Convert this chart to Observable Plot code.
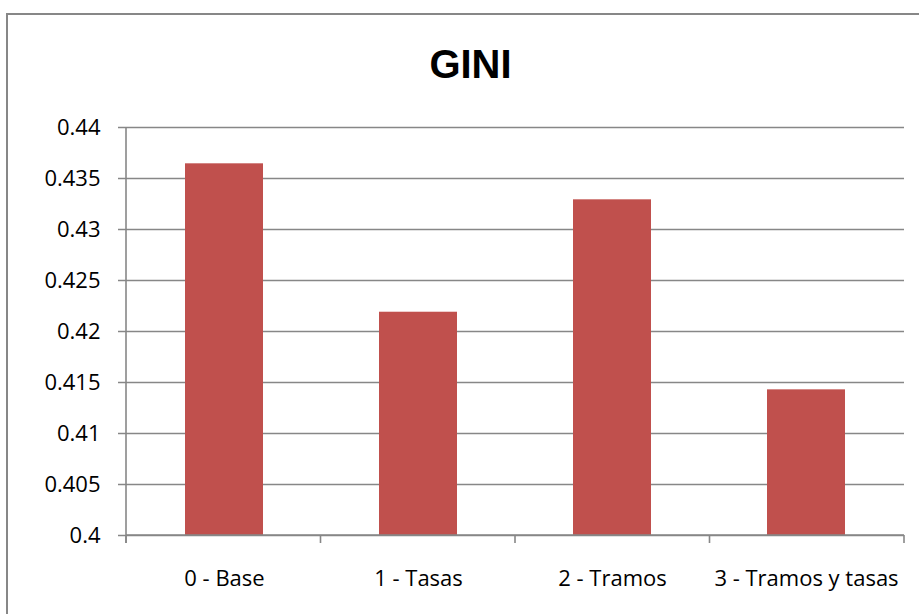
<!DOCTYPE html>
<html>
<head>
<meta charset="utf-8">
<script src="https://cdn.jsdelivr.net/npm/d3@7"></script>
<script src="https://cdn.jsdelivr.net/npm/@observablehq/plot@0.6"></script>
<style>
  html, body { margin: 0; padding: 0; background: #fff; overflow: hidden; width: 919px; height: 614px; }
  #box { position: absolute; left: 6px; top: 13px; width: 1000px; height: 700px;
         border: 2px solid #878787; box-sizing: border-box; }
  #title { position: absolute; left: 0; top: 44px; width: 941px; text-align: center;
           font: bold 40px "Liberation Sans", Arial, sans-serif; line-height: 40px; color: #000; z-index: 2; }
  #chart { position: absolute; left: 0; top: 0; }
</style>
</head>
<body>
<div id="box"></div>
<div id="title">GINI</div>
<div id="chart"></div>
<script>
// Scenarios and their Gini coefficients
const scenarios = ["0 - Base", "1 - Tasas", "2 - Tramos", "3 - Tramos y tasas"];
const gini = [0.43644, 0.42189, 0.43291, 0.41428];
const yTicks = [0.4, 0.405, 0.41, 0.415, 0.42, 0.425, 0.43, 0.435, 0.44];

const data = scenarios.map((s, i) => ({scenario: s, gini: gini[i]}));
const base = yTicks[0];
const axisColor = "#878787";

// Vertical axis line plus category boundary ticks along the bottom
function frameTicks(index, scales, values, dims) {
  const g = d3.create("svg:g").attr("stroke", axisColor).attr("stroke-width", 1.6).attr("fill", "none");
  const y0 = scales.y(yTicks[0]);
  const y1 = scales.y(yTicks[yTicks.length - 1]);
  const left = dims.marginLeft;
  const right = dims.width - dims.marginRight;
  g.append("line").attr("x1", left).attr("x2", left).attr("y1", y1).attr("y2", y0 + 8);
  g.append("line").attr("x1", left).attr("x2", right).attr("y1", y0).attr("y2", y0);
  const n = scenarios.length;
  d3.range(n + 1).forEach(i => {
    const x = left + i * (right - left) / n;
    g.append("line").attr("x1", x).attr("x2", x).attr("y1", y0).attr("y2", y0 + 8);
  });
  return g.node();
}

const chart = Plot.plot({
  width: 919,
  height: 614,
  marginLeft: 126,
  marginRight: 15,
  marginTop: 127,
  marginBottom: 79,
  style: {fontFamily: "'Open Sans', sans-serif", fontSize: "22px", color: "#000", background: "transparent"},
  x: {domain: scenarios, paddingInner: 0.6, paddingOuter: 0.3, label: null},
  y: {domain: [yTicks[0], yTicks[yTicks.length - 1]], ticks: yTicks, label: null},
  marks: [
    Plot.ruleY(yTicks, {stroke: axisColor, strokeWidth: 1.6, insetLeft: -8}),
    Plot.barY(data, {x: "scenario", y1: () => base, y2: "gini", fill: "#C0504D"}),
    frameTicks,
    Plot.axisY({ticks: yTicks, tickSize: 0, tickPadding: 26, tickFormat: d => String(+d.toFixed(3)), label: null, fontSize: 22}),
    Plot.axisX({tickSize: 0, tickPadding: 35, label: null, fontSize: 22})
  ]
});
document.getElementById("chart").appendChild(chart);
</script>
</body>
</html>
